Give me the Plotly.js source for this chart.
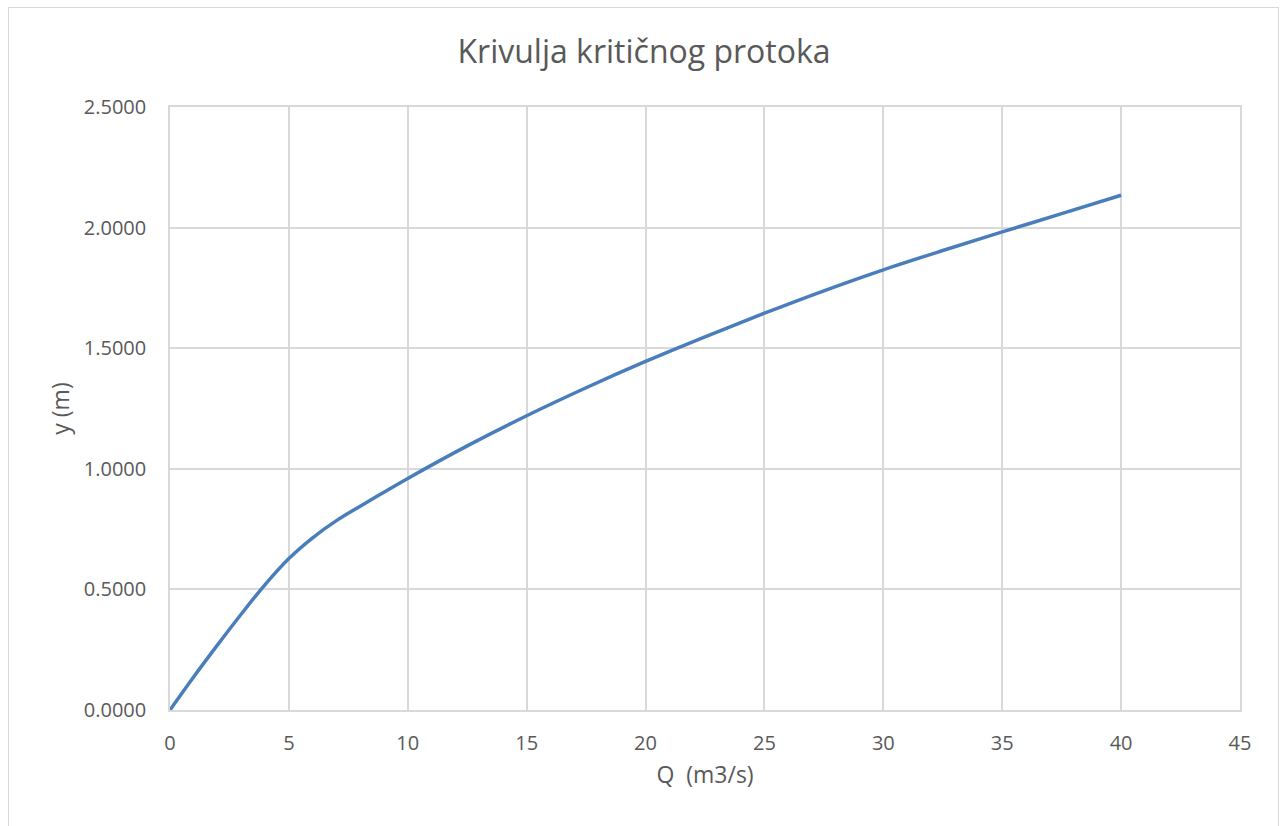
<!DOCTYPE html>
<html>
<head>
<meta charset="utf-8">
<script src="https://cdn.plot.ly/plotly-3.0.1.min.js"></script>
<style>
  html, body { margin: 0; padding: 0; background: #ffffff; }
  #wrap { position: relative; width: 1283px; height: 826px; overflow: hidden; }
  #frame { position: absolute; left: 8px; top: 7px; width: 1271px; height: 840px; border: 1.5px solid #d9d9d9; box-sizing: border-box; pointer-events: none; }
  #chart { position: absolute; left: 0; top: 0; width: 1283px; height: 826px; }
</style>
</head>
<body>
<div id="wrap">
  <div id="chart"></div>
  <div id="frame"></div>
</div>
<script>
// Discharge Q (m3/s)
const Q = [0, 1, 2, 3, 4, 5, 6, 7, 8, 9, 10, 12.5, 15, 17.5, 20, 22.5, 25, 27.5, 30, 32.5, 35, 37.5, 40];
// Critical depth y (m)
const yc = [0, 0.138, 0.27, 0.398, 0.52, 0.628, 0.714, 0.785, 0.845, 0.903, 0.96, 1.095, 1.22, 1.336, 1.445, 1.547, 1.645, 1.738, 1.825, 1.905, 1.982, 2.058, 2.134];
const chartTitle = "Krivulja kritičnog protoka";
const xTitle = "Q\u00a0 (m3/s)";
const yTitle = "y (m)";

const font = "Open Sans, Noto Sans, sans-serif";
const grid = "#d9d9d9";
const textCol = "#595959";

Plotly.newPlot("chart", [{
  x: Q, y: yc, type: "scatter", mode: "lines",
  line: { color: "#4a7ebb", width: 3.5, shape: "spline", smoothing: 1 },
  hoverinfo: "x+y"
}], {
  width: 1283, height: 826,
  margin: { l: 170, r: 43, t: 107, b: 116 },
  paper_bgcolor: "#ffffff", plot_bgcolor: "#ffffff",
  showlegend: false,
  font: { family: font, color: textCol, size: 20 },
  title: {
    text: chartTitle, font: { family: font, size: 32, color: textCol },
    xref: "container", x: 0.502, xanchor: "center",
    yref: "container", y: 1 - 52 / 826, yanchor: "middle"
  },
  xaxis: {
    range: [0, 45], dtick: 5, tick0: 0,
    showgrid: true, gridcolor: grid, gridwidth: 1.5,
    zeroline: false, showline: true, linecolor: grid, linewidth: 1.5, mirror: true,
    ticks: "", ticklabelstandoff: 14,
    tickfont: { family: font, size: 20, color: textCol },
    title: { text: xTitle, font: { family: font, size: 23, color: textCol }, standoff: 12 }
  },
  yaxis: {
    range: [0, 2.5], dtick: 0.5, tick0: 0, tickformat: ".4f",
    showgrid: true, gridcolor: grid, gridwidth: 1.5,
    zeroline: false, showline: true, linecolor: grid, linewidth: 1.5, mirror: true,
    ticks: "", ticklabelstandoff: 18,
    tickfont: { family: font, size: 20, color: textCol },
    title: { text: yTitle, font: { family: font, size: 23, color: textCol }, standoff: 8 }
  }
}, { displayModeBar: false, staticPlot: false });
</script>
</body>
</html>
